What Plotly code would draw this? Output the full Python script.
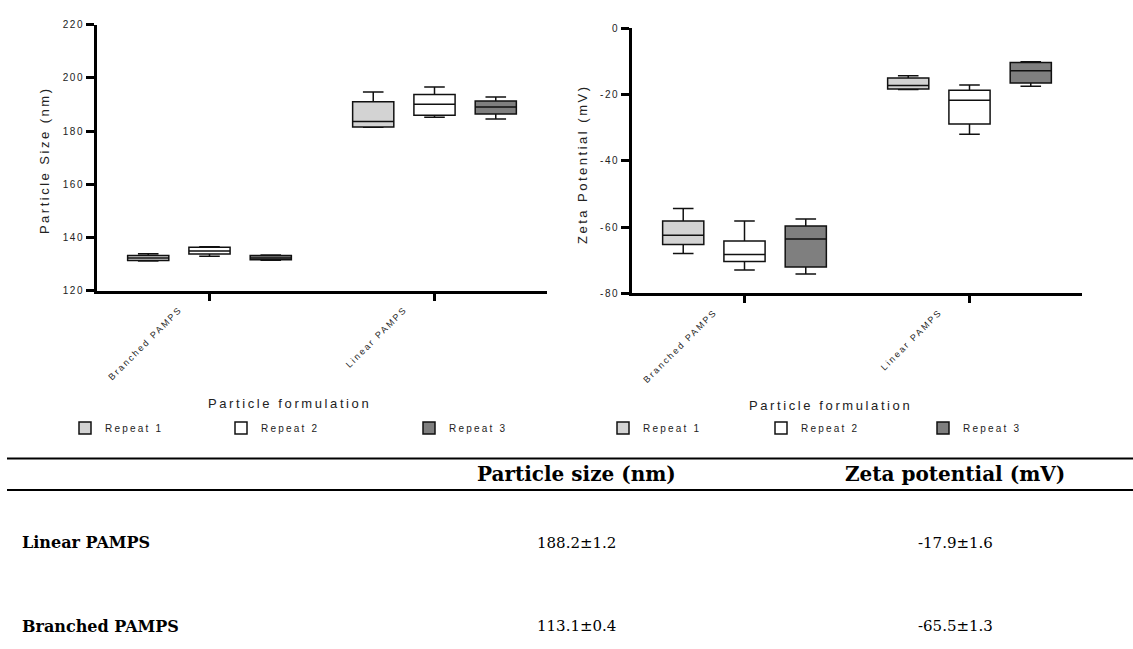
import plotly.graph_objects as go

# ---- data -------------------------------------------------------------
categories = ["Branched PAMPS", "Linear PAMPS"]
repeats = ["Repeat 1", "Repeat 2", "Repeat 3"]
repeat_fill = ["#d3d3d3", "#ffffff", "#7f7f7f"]

# Particle size (nm): one row per repeat, columns follow `categories`
size_min = [[131.1, 181.4], [132.9, 185.2], [131.4, 184.5]]
size_q1 = [[131.3, 181.5], [133.8, 185.9], [131.6, 186.4]]
size_med = [[132.3, 183.6], [134.9, 190.1], [132.3, 189.0]]
size_q3 = [[133.2, 191.0], [136.3, 193.7], [133.2, 191.3]]
size_max = [[133.9, 194.7], [136.5, 196.6], [133.4, 192.8]]

# Zeta potential (mV)
zeta_min = [[-68.0, -18.5], [-73.0, -32.0], [-74.2, -17.5]]
zeta_q1 = [[-65.3, -18.3], [-70.4, -28.9], [-72.1, -16.5]]
zeta_med = [[-62.5, -17.3], [-68.3, -21.7], [-63.6, -12.8]]
zeta_q3 = [[-58.2, -15.0], [-64.2, -18.7], [-59.7, -10.3]]
zeta_max = [[-54.4, -14.3], [-58.2, -17.1], [-57.6, -10.1]]

size_ticks = [120, 140, 160, 180, 200, 220]
zeta_ticks = [-80, -60, -40, -20, 0]

# summary table
table_headers = ["Particle size (nm)", "Zeta potential (mV)"]
table_rows = ["Linear PAMPS", "Branched PAMPS"]
table_size_mean = [188.2, 113.1]
table_size_sd = [1.2, 0.4]
table_zeta_mean = [-17.9, -65.5]
table_zeta_sd = [1.6, 1.3]

# ---- helpers ----------------------------------------------------------
W, H = 1133, 649
SANS = "Liberation Sans, Arial, sans-serif"
SERIF = "DejaVu Serif, serif"


def spaced(text, px):
    return f'<span style="letter-spacing:{px}px">{text}</span>'


def px_x(x):
    return x / W


def px_y(y):
    return 1 - y / H


fig = go.Figure()

panels = [
    dict(xa="x", ya="y", lo=size_min, q1=size_q1, med=size_med, q3=size_q3, hi=size_max,
         legends=["legend", "legend2", "legend3"], group="size"),
    dict(xa="x2", ya="y2", lo=zeta_min, q1=zeta_q1, med=zeta_med, q3=zeta_q3, hi=zeta_max,
         legends=["legend4", "legend5", "legend6"], group="zeta"),
]

for p in panels:
    for i, rep in enumerate(repeats):
        fig.add_trace(go.Box(
            x=categories,
            lowerfence=p["lo"][i], q1=p["q1"][i], median=p["med"][i],
            q3=p["q3"][i], upperfence=p["hi"][i],
            name=spaced(rep, 2.2),
            fillcolor=repeat_fill[i],
            line=dict(color="#111111", width=1.5),
            whiskerwidth=0.5,
            boxpoints=False,
            offsetgroup=str(i),
            alignmentgroup=p["group"],
            legend=p["legends"][i],
            showlegend=True,
            xaxis=p["xa"], yaxis=p["ya"],
            hoverinfo="skip",
        ))

axis_common = dict(
    showline=True, linewidth=3, linecolor="black",
    ticks="outside", tickcolor="black",
    showgrid=False, zeroline=False, fixedrange=True,
)

x_common = dict(
    axis_common, type="category", categoryorder="array", categoryarray=categories,
    range=[-0.5, 1.5], ticklen=7, tickwidth=3, tickangle=-45,
    tickvals=categories, ticktext=[spaced(c, 2) for c in categories],
    tickfont=dict(family=SANS, size=9, color="#222222"),
    ticklabelshift=-30,
)

fig.update_layout(
    width=W, height=H,
    margin=dict(l=0, r=0, t=0, b=0),
    paper_bgcolor="white", plot_bgcolor="white",
    showlegend=True,
    boxmode="group", boxgap=0.183, boxgroupgap=0.328,
    font=dict(family=SANS, color="#222222"),
    xaxis=dict(x_common, domain=[px_x(97), px_x(547)], anchor="y"),
    xaxis2=dict(x_common, domain=[px_x(632), px_x(1082)], anchor="y2"),
    yaxis=dict(axis_common, domain=[px_y(290), px_y(19)], anchor="x",
               range=[120, 220], tickvals=size_ticks,
               ticktext=[spaced(t, 1.5) for t in size_ticks],
               ticklen=8, tickwidth=2.5,
               tickfont=dict(family=SANS, size=10, color="#222222")),
    yaxis2=dict(axis_common, domain=[px_y(292.7), px_y(22.7)], anchor="x2",
                range=[-80, 0], tickvals=zeta_ticks,
                ticktext=[spaced(t, 1.5) for t in zeta_ticks],
                ticklen=8, tickwidth=2.5,
                tickfont=dict(family=SANS, size=10, color="#222222")),
)

# one single-entry legend per repeat, laid out in a row under each panel
legend_left = [65, 221, 409, 603, 761, 923]
legend_names = ["legend", "legend2", "legend3", "legend4", "legend5", "legend6"]
for name, left in zip(legend_names, legend_left):
    fig.update_layout({name: dict(
        x=px_x(left), y=px_y(430), xanchor="left", yanchor="middle",
        orientation="h", bgcolor="rgba(0,0,0,0)", borderwidth=0,
        font=dict(family=SANS, size=10, color="#222222"),
        itemclick=False, itemdoubleclick=False, visible=True,
    )})

annotations = [
    dict(text=spaced("Particle Size (nm)", 2.5), x=px_x(44), y=px_y(157), textangle=-90,
         font=dict(family=SANS, size=13, color="#222222")),
    dict(text=spaced("Zeta Potential (mV)", 2.5), x=px_x(582), y=px_y(161), textangle=-90,
         font=dict(family=SANS, size=13, color="#222222")),
    dict(text=spaced("Particle formulation", 2.6), x=px_x(289), y=px_y(405),
         font=dict(family=SANS, size=13, color="#222222")),
    dict(text=spaced("Particle formulation", 2.6), x=px_x(830), y=px_y(407),
         font=dict(family=SANS, size=13, color="#222222")),
]

# table header
col_x = [577, 955]
for hdr, cx in zip(table_headers, col_x):
    annotations.append(dict(text=f"<b>{hdr}</b>", x=px_x(cx), y=px_y(477),
                            font=dict(family=SERIF, size=20, color="black")))

row_y = [547, 632]
for r, label in enumerate(table_rows):
    annotations.append(dict(text=f"<b>{label}</b>", x=px_x(20), y=px_y(row_y[r]),
                            xanchor="left", font=dict(family=SERIF, size=16, color="black")))
    annotations.append(dict(text=f"{table_size_mean[r]:.1f}±{table_size_sd[r]:.1f}",
                            x=px_x(col_x[0]), y=px_y(row_y[r]),
                            font=dict(family=SERIF, size=15, color="black")))
    annotations.append(dict(text=f"{table_zeta_mean[r]:.1f}±{table_zeta_sd[r]:.1f}",
                            x=px_x(col_x[1]), y=px_y(row_y[r]),
                            font=dict(family=SERIF, size=15, color="black")))

for a in annotations:
    a.update(xref="paper", yref="paper", showarrow=False)
    a.setdefault("xanchor", "center")
    a.setdefault("yanchor", "middle")

fig.update_layout(annotations=annotations)

# table rules
for yy in (461, 493):
    fig.add_shape(type="line", xref="paper", yref="paper",
                  x0=px_x(7), x1=1, y0=px_y(yy), y1=px_y(yy),
                  line=dict(color="black", width=2))

fig.write_html("out.html")
